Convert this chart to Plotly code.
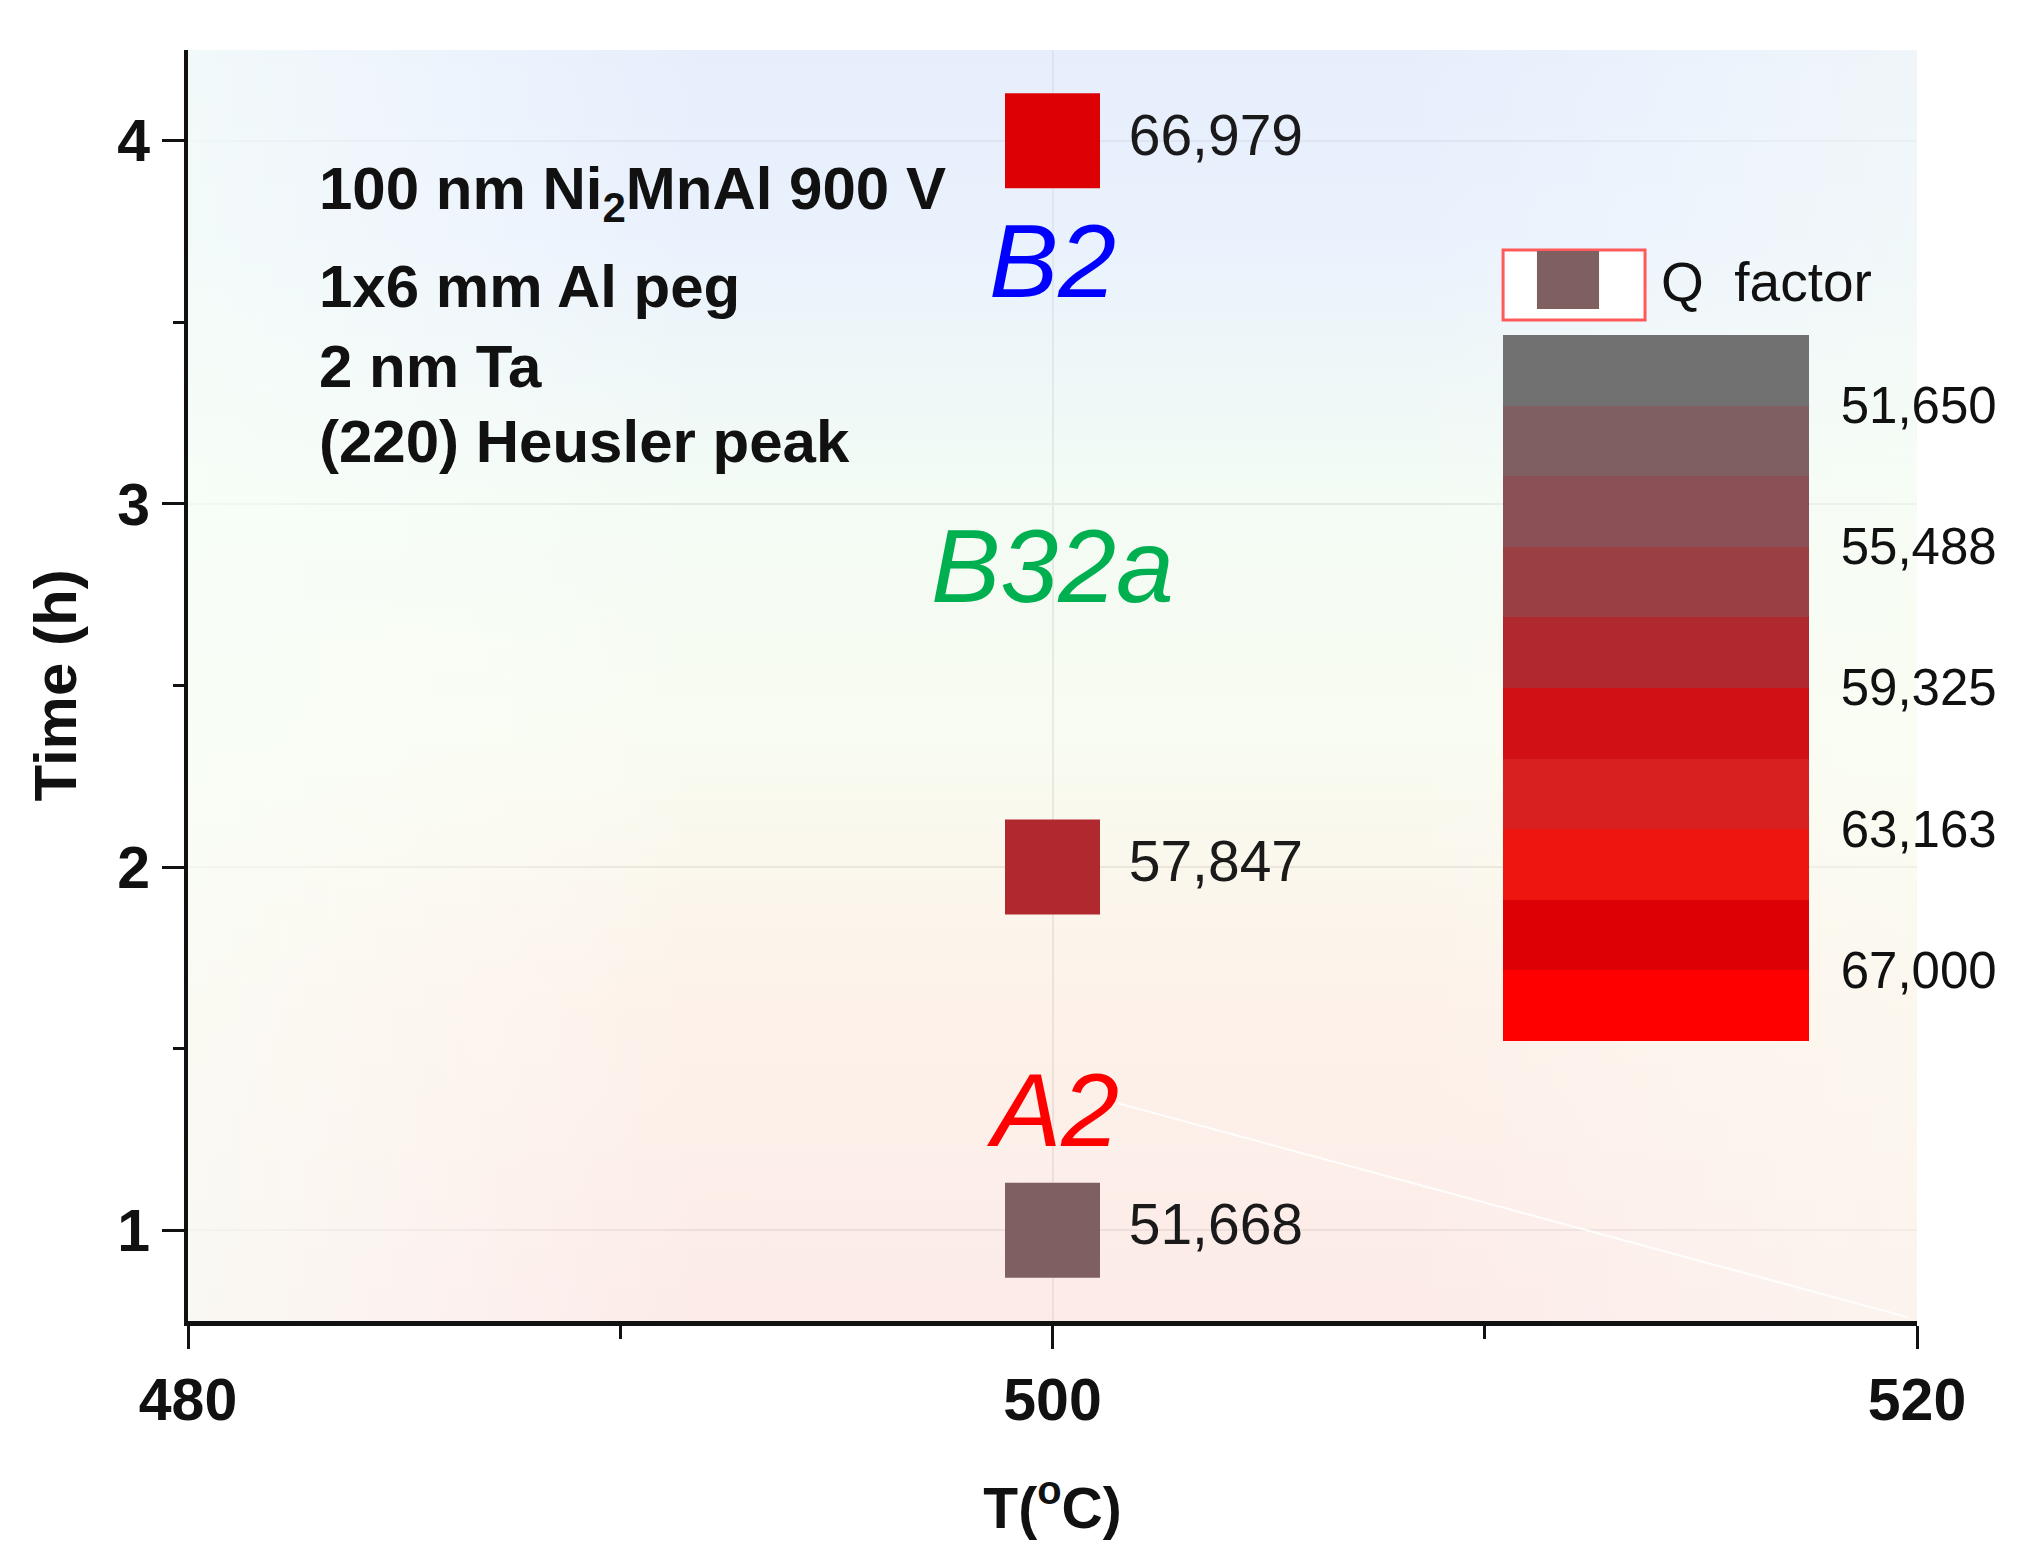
import plotly.graph_objects as go

# data
temps = [500, 500, 500]                 # annealing temperature (degC)
hours = [1, 2, 4]                       # annealing time (h)
q_factor = [51668, 57847, 66979]        # Q factor of each sample

phase_names = ["A2", "B32a", "B2"]
phase_y = [1.33, 2.828, 3.669]
phase_colors = ["#FF0000", "#00B050", "#0000FF"]

info_lines = ["100 nm Ni<sub>2</sub>MnAl 900 V", "1x6 mm Al peg", "2 nm Ta", "(220) Heusler peak"]
info_y = [0.8875, 0.8143, 0.7506, 0.6916]

cbar_ticks = [51650, 55488, 59325, 63163, 67000]
band_colors = ["#717171", "#7F5F60", "#8A5055", "#9A4042", "#B0292E",
               "#D01015", "#D82020", "#EE1510", "#DD0005", "#FF0000"]
q_low, q_high = 49731, 68919

FONT = "Liberation Sans, Arial, sans-serif"

# colour bar drawn low value at top -> work with negated values
neg_q = [-q for q in q_factor]
colorscale = []
bottom_up = band_colors[::-1]
n = len(bottom_up)
for i, c in enumerate(bottom_up):
    colorscale.append([i / n, c])
    colorscale.append([(i + 1) / n, c])

fig = go.Figure()

# soft background wash (vertical tint, then a whitish fade at the sides)
box_x = [480, 520, 520, 480, 480]
box_y = [0.75, 0.75, 4.25, 4.25, 0.75]
fig.add_trace(go.Scatter(
    x=box_x, y=box_y, fill="toself", mode="lines", line=dict(width=0),
    fillgradient=dict(type="vertical", start=0.75, stop=4.25, colorscale=[
        [0.0, "rgba(251,228,224,0.75)"],
        [0.25, "rgba(252,236,224,0.7)"],
        [0.45, "rgba(246,250,234,0.7)"],
        [0.65, "rgba(238,250,240,0.7)"],
        [0.85, "rgba(228,238,252,0.8)"],
        [1.0, "rgba(224,234,252,0.8)"],
    ]),
    hoverinfo="skip", showlegend=False,
))
fig.add_trace(go.Scatter(
    x=box_x, y=box_y, fill="toself", mode="lines", line=dict(width=0),
    fillgradient=dict(type="horizontal", start=480, stop=520, colorscale=[
        [0.0, "rgba(248,255,248,0.65)"],
        [0.3, "rgba(255,255,255,0.0)"],
        [0.7, "rgba(255,255,255,0.0)"],
        [1.0, "rgba(250,255,245,0.45)"],
    ]),
    hoverinfo="skip", showlegend=False,
))

fig.add_trace(go.Scatter(
    x=temps, y=hours, mode="markers+text",
    text=[f" {q:,}" for q in q_factor], textposition="middle right",
    textfont=dict(family=FONT, size=57, color="#1A1A1A"),
    marker=dict(symbol="square", size=95, color=neg_q, cmin=-q_high, cmax=-q_low,
                colorscale=colorscale, line=dict(width=0),
                colorbar=dict(
                    x=0.7606, xanchor="left", y=0.4984, yanchor="middle",
                    thickness=306, thicknessmode="pixels", len=0.5555, lenmode="fraction",
                    outlinewidth=0, xpad=0, ypad=0,
                    tickvals=[-v for v in cbar_ticks], ticktext=[f"{v:,}" for v in cbar_ticks],
                    ticks="outside", ticklen=22, tickcolor="rgba(0,0,0,0)",
                    tickfont=dict(family=FONT, size=51, color="#111111"),
                )),
    name="Q factor", showlegend=False,
))

# phase labels
for name, y, c in zip(phase_names, phase_y, phase_colors):
    fig.add_annotation(x=500, y=y, text=f"<i>{name}</i>", showarrow=False,
                       font=dict(family=FONT, size=104, color=c))

# sample description
for line, y in zip(info_lines, info_y):
    fig.add_annotation(x=0.0746, y=y, xref="paper", yref="paper", text=line,
                       showarrow=False, xanchor="left", yanchor="middle",
                       font=dict(family=FONT, size=60, color="#111111", weight="bold"))

# hand-made legend entry
fig.add_shape(type="rect", xref="paper", yref="paper", x0=0.7606, x1=0.8427, y0=0.7876, y1=0.8426,
              line=dict(color="#FF5A5A", width=3), fillcolor="white")
fig.add_shape(type="rect", xref="paper", yref="paper", x0=0.7802, x1=0.8161, y0=0.7962, y1=0.8419,
              line=dict(width=0), fillcolor=band_colors[1])
fig.add_annotation(x=0.8508, y=0.8175, xref="paper", yref="paper", text="Q  factor", showarrow=False,
                   xanchor="left", yanchor="middle", font=dict(family=FONT, size=55, color="#111111"))

# faint white streak
fig.add_shape(type="line", x0=501.5, y0=1.35, x1=519.8, y1=0.76,
              line=dict(color="rgba(255,255,255,0.9)", width=2))

fig.update_xaxes(
    range=[480, 520], tick0=480, dtick=20, showline=True, linewidth=5, linecolor="#111111",
    ticks="outside", ticklen=23, tickwidth=3, tickcolor="#111111",
    minor=dict(dtick=10, ticks="outside", ticklen=13, tickwidth=3, tickcolor="#111111", showgrid=False),
    showgrid=True, gridcolor="#C8C8C8", gridwidth=2, zeroline=False,
    tickfont=dict(family=FONT, size=59, color="#111111", weight="bold"),
    title=dict(text="T(<sup>o</sup>C)", standoff=58,
               font=dict(family=FONT, size=57, color="#111111", weight="bold")),
)
fig.update_yaxes(
    range=[0.75, 4.25], tick0=0, dtick=1, showline=True, linewidth=4, linecolor="#111111",
    ticks="outside", ticklen=22, tickwidth=3, tickcolor="#111111",
    minor=dict(dtick=0.5, ticks="outside", ticklen=11, tickwidth=3, tickcolor="#111111", showgrid=False),
    showgrid=True, gridcolor="#C8C8C8", gridwidth=2, zeroline=False,
    tickfont=dict(family=FONT, size=59, color="#111111", weight="bold"),
    title=dict(text="Time (h)", standoff=22,
               font=dict(family=FONT, size=60, color="#111111", weight="bold")),
)

fig.update_layout(
    width=2019, height=1553,
    margin=dict(l=180, r=110, t=42, b=240),
    paper_bgcolor="white", plot_bgcolor="white",
    showlegend=False,
)

fig.write_html("out.html")
